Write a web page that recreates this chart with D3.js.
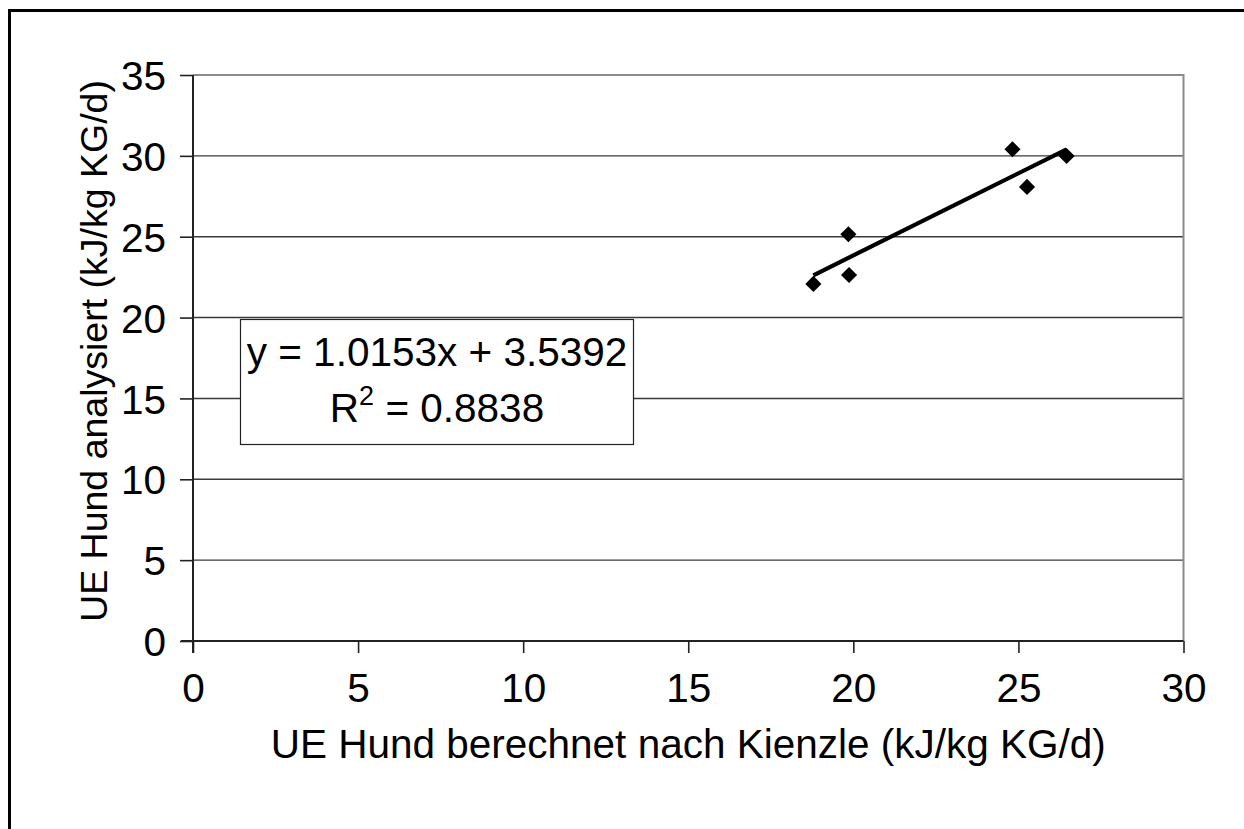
<!DOCTYPE html>
<html>
<head>
<meta charset="utf-8">
<script src="https://cdn.jsdelivr.net/npm/d3@7"></script>
<style>
  html, body { margin: 0; padding: 0; background: #fff; }
  svg { display: block; font-family: "Liberation Sans", Arial, sans-serif; }
</style>
</head>
<body>
<svg id="chart" width="1244" height="829"></svg>
<script>
// Measured energy intake vs. energy calculated after Kienzle
const calcKienzle = [18.79, 19.85, 19.87, 25.26, 24.82, 26.46];
const analysed    = [22.08, 25.15, 22.63, 28.08, 30.41, 29.99];

// Linear trend as printed in the label
const slope = 1.0153;
const intercept = 3.5392;
const rSquared = 0.8838;

const xTicks = [0, 5, 10, 15, 20, 25, 30];
const yTicks = [0, 5, 10, 15, 20, 25, 30, 35];

const xTitle = "UE Hund berechnet nach Kienzle (kJ/kg KG/d)";
const yTitle = "UE Hund analysiert (kJ/kg KG/d)";

const svg = d3.select("#chart");
const fontSize = 40.5;
const yTitleSize = 37.5;

const plot = { left: 193, top: 75, right: 1183.5, bottom: 641 };

const x = d3.scaleLinear().domain([0, 30]).range([plot.left, plot.right]);
const y = d3.scaleLinear().domain([0, 35]).range([plot.bottom, plot.top]);

// Outer chart frame (extends beyond the visible canvas on right/bottom)
svg.append("path")
  .attr("d", "M9.5,840 L9.5,10.5 L1260,10.5")
  .attr("fill", "none")
  .attr("stroke", "#000")
  .attr("stroke-width", 3);

// Horizontal gridlines
svg.append("g")
  .selectAll("line")
  .data(yTicks.filter(t => t > 0 && t < 35))
  .join("line")
  .attr("x1", plot.left).attr("x2", plot.right)
  .attr("y1", d => y(d)).attr("y2", d => y(d))
  .attr("stroke", "#3a3a3a")
  .attr("stroke-width", 1.4);

// Plot area border (top and right)
svg.append("path")
  .attr("d", `M${plot.left},${plot.top} L${plot.right},${plot.top} L${plot.right},${plot.bottom}`)
  .attr("fill", "none")
  .attr("stroke", "#8a8a8a")
  .attr("stroke-width", 2);

// Axes
const xAxis = d3.axisBottom(x).tickValues(xTicks).tickSize(12).tickPadding(20);
const yAxis = d3.axisLeft(y).tickValues(yTicks).tickSize(13).tickPadding(14);

const gx = svg.append("g")
  .attr("transform", `translate(0,${plot.bottom})`)
  .call(xAxis);
const gy = svg.append("g")
  .attr("transform", `translate(${plot.left},0)`)
  .call(yAxis);

[gx, gy].forEach(g => {
  g.select(".domain").attr("stroke", "#222").attr("stroke-width", 2);
  g.selectAll(".tick line").attr("stroke", "#222").attr("stroke-width", 1.6);
  g.selectAll(".tick text")
    .attr("fill", "#000")
    .style("font-size", fontSize + "px")
    .style("font-family", "'Liberation Sans', Arial, sans-serif");
});
gx.select(".domain").attr("d", `M${plot.left - 12},0H${plot.right}`);
gy.select(".domain").attr("d", `M0,${plot.bottom + 12}V${plot.top}`);
gy.selectAll(".tick text").attr("dy", "0.36em");

// Trendline from the fitted equation
const xMin = d3.min(calcKienzle), xMax = d3.max(calcKienzle);
svg.append("line")
  .attr("x1", x(xMin)).attr("y1", y(slope * xMin + intercept))
  .attr("x2", x(xMax)).attr("y2", y(slope * xMax + intercept))
  .attr("stroke", "#000")
  .attr("stroke-width", 4.2);

// Data points (diamonds)
const diamond = d3.symbol().type(d3.symbolSquare).size(130);
svg.append("g")
  .selectAll("path")
  .data(calcKienzle.map((v, i) => [v, analysed[i]]))
  .join("path")
  .attr("d", diamond)
  .attr("transform", d => `translate(${x(d[0])},${y(d[1])}) rotate(45)`)
  .attr("fill", "#000");

// Equation box
const box = { x: 240, y: 319, w: 393, h: 125 };
svg.append("rect")
  .attr("x", box.x + 0.5).attr("y", box.y + 0.5)
  .attr("width", box.w).attr("height", box.h)
  .attr("fill", "#fff")
  .attr("stroke", "#222")
  .attr("stroke-width", 1.2);

const cx = box.x + box.w / 2 + 0.5;
svg.append("text")
  .attr("x", cx).attr("y", 366)
  .attr("text-anchor", "middle")
  .style("font-size", fontSize + "px")
  .text(`y = ${slope.toFixed(4)}x + ${intercept.toFixed(4)}`);

const r2 = svg.append("text")
  .attr("x", cx).attr("y", 422)
  .attr("text-anchor", "middle")
  .style("font-size", fontSize + "px");
r2.append("tspan").text("R");
r2.append("tspan").attr("dy", -17).style("font-size", "27px").text("2");
r2.append("tspan").attr("dy", 17).text(` = ${rSquared.toFixed(4)}`);

// Axis titles
svg.append("text")
  .attr("x", (plot.left + plot.right) / 2)
  .attr("y", 758)
  .attr("text-anchor", "middle")
  .style("font-size", fontSize + "px")
  .text(xTitle);

svg.append("text")
  .attr("transform", `translate(107,351) rotate(-90)`)
  .attr("text-anchor", "middle")
  .style("font-size", yTitleSize + "px")
  .text(yTitle);
</script>
</body>
</html>
